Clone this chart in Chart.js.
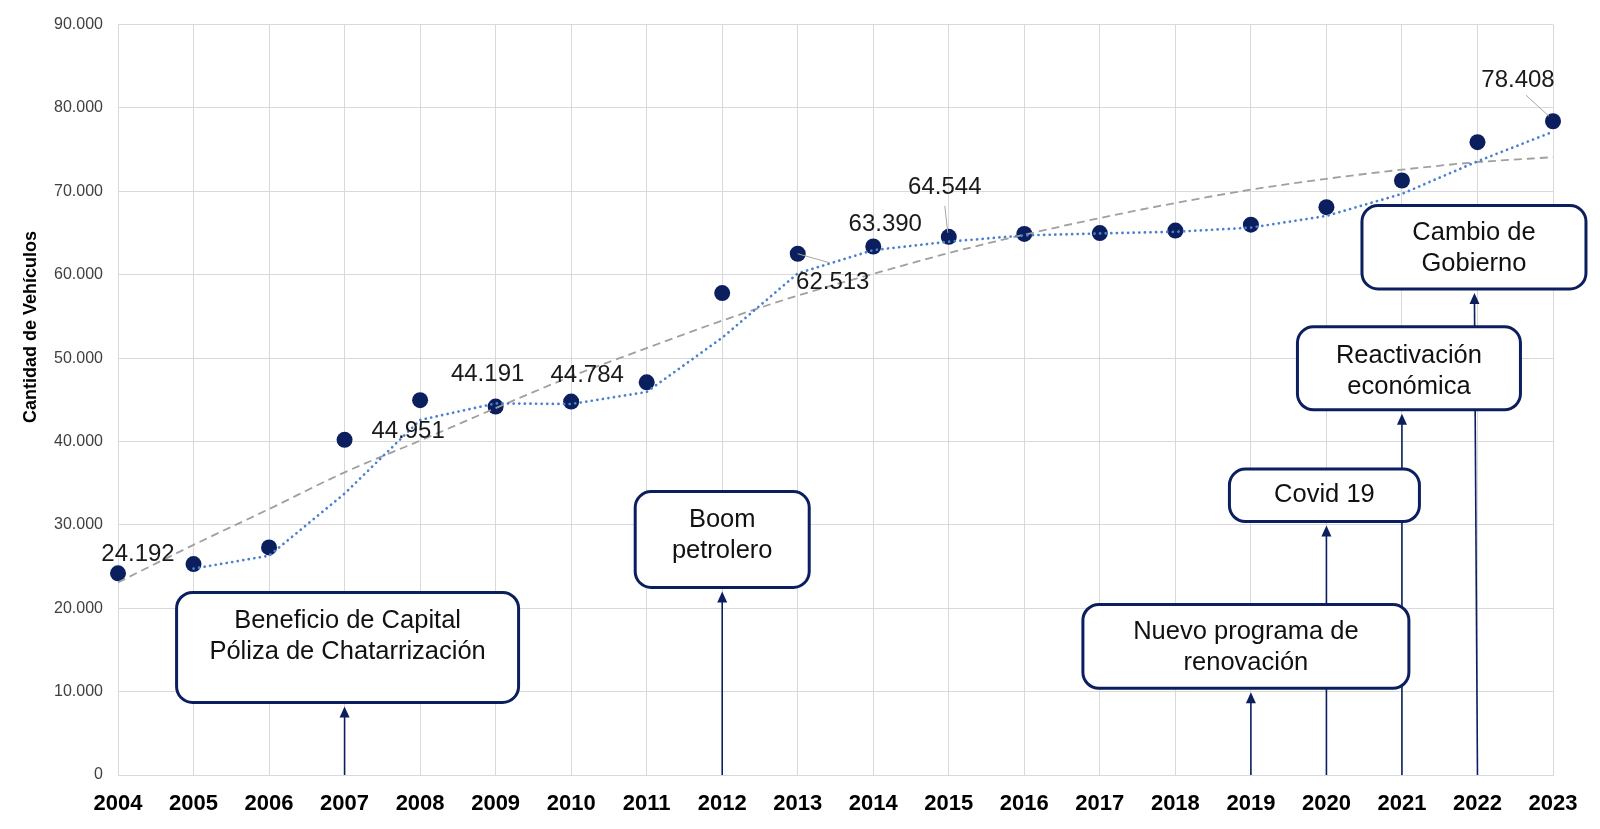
<!DOCTYPE html>
<html>
<head>
<meta charset="utf-8">
<script src="https://cdn.jsdelivr.net/npm/chart.js@4.4.0/dist/chart.umd.min.js"></script>
<style>
  html, body { margin: 0; padding: 0; background: #fff; }
</style>
</head>
<body>
<canvas id="myChart" width="1600" height="829"></canvas>
<script>
// años y matriculación de vehículos
const years = ['2004','2005','2006','2007','2008','2009','2010','2011','2012','2013',
               '2014','2015','2016','2017','2018','2019','2020','2021','2022','2023'];
const vehicles = [24192, 25300, 27300, 40200, 44951, 44191, 44784, 47100, 57800, 62513,
                  63390, 64544, 64900, 65000, 65300, 66000, 68100, 71300, 75900, 78408];
// media móvil (2 períodos)
const movingAvg = [null, 24750, 26300, 33750, 42580, 44570, 44490, 45940, 52450, 60160,
                   62950, 63970, 64720, 64950, 65150, 65650, 67050, 69700, 73600, 77150];
// tendencia polinómica
const polyTrend = [23100, 27600, 31900, 36300, 40100, 44000, 47800, 51200, 54500, 57500,
                   60100, 62600, 64800, 66800, 68600, 70200, 71500, 72600, 73500, 74100];
const yTicks = [0, 10000, 20000, 30000, 40000, 50000, 60000, 70000, 80000, 90000];
const labelYears = ['2004','2008','2009','2010','2013','2014','2015','2023'];

const NAVY = '#0b1f5e';
const FONT = '"Liberation Sans", Arial, sans-serif';

function fmt(v){
  return String(v).replace(/\B(?=(\d{3})+(?!\d))/g, '.');
}

// posicion de etiquetas de datos (dx, dy) y lineas guia
const labelPos = {
  '2004': {dx: 20, dy: -19},
  '2008': {dx: -12, dy: 31},
  '2009': {dx: -8, dy: -32},
  '2010': {dx: 16, dy: -26},
  '2013': {dx: 35, dy: 29, lead: [0, 0, 32, 9]},
  '2014': {dx: 12, dy: -22},
  '2015': {dx: -4, dy: -49, lead: [-1, -4, -4, -31]},
  '2023': {dx: -35, dy: -41, lead: [-4, -5, -27, -26]}
};

// cuadros de eventos
const events = [
  {year: '2007', dx: 3, w: 342, top: 21900, bottom: 8700, textDy: -11,
   lines: ['Beneficio de Capital', 'Póliza de Chatarrización']},
  {year: '2012', dx: 0, w: 174, top: 34000, bottom: 22500, textDy: -4,
   lines: ['Boom', 'petrolero']},
  {year: '2019', dx: -5, w: 326, top: 20450, bottom: 10400, textDy: 1,
   lines: ['Nuevo programa de', 'renovación']},
  {year: '2020', dx: -2, w: 190, top: 36700, bottom: 30400, textDy: 0,
   lines: ['Covid 19']},
  {year: '2021', dx: 7, w: 223, top: 53750, bottom: 43800, textDy: 3,
   lines: ['Reactivación', 'económica']},
  {year: '2022', dx: -3.5, w: 224, top: 68300, bottom: 58300, textDy: 1, topDx: -3,
   lines: ['Cambio de', 'Gobierno']}
];

function roundRect(ctx, x, y, w, h, r){
  ctx.beginPath();
  ctx.moveTo(x + r, y);
  ctx.arcTo(x + w, y, x + w, y + h, r);
  ctx.arcTo(x + w, y + h, x, y + h, r);
  ctx.arcTo(x, y + h, x, y, r);
  ctx.arcTo(x, y, x + w, y, r);
  ctx.closePath();
}

const overlay = {
  id: 'overlay',
  afterDraw(chart){
    const ctx = chart.ctx;
    const xs = chart.scales.x, ys = chart.scales.y;
    const px = y => xs.getPixelForValue(years.indexOf(y));

    ctx.save();
    // titulo eje Y
    ctx.translate(31, 327);
    ctx.rotate(-Math.PI / 2);
    ctx.font = 'bold 18px ' + FONT;
    ctx.fillStyle = '#000';
    ctx.textAlign = 'center';
    ctx.textBaseline = 'middle';
    ctx.fillText('Cantidad de Vehículos', 0, 0);
    ctx.restore();

    // etiquetas de datos
    ctx.save();
    ctx.font = '24px ' + FONT;
    ctx.fillStyle = '#1a1a1a';
    ctx.textAlign = 'center';
    ctx.textBaseline = 'middle';
    labelYears.forEach(y => {
      const i = years.indexOf(y);
      const x0 = px(y), y0 = ys.getPixelForValue(vehicles[i]);
      const p = labelPos[y];
      if (p.lead){
        ctx.strokeStyle = '#a6a6a6';
        ctx.lineWidth = 1;
        ctx.beginPath();
        ctx.moveTo(x0 + p.lead[0], y0 + p.lead[1]);
        ctx.lineTo(x0 + p.lead[2], y0 + p.lead[3]);
        ctx.stroke();
      }
      ctx.fillText(fmt(vehicles[i]), x0 + p.dx, y0 + p.dy);
    });
    ctx.restore();

    // flechas
    ctx.save();
    ctx.strokeStyle = NAVY;
    ctx.fillStyle = NAVY;
    ctx.lineWidth = 1.6;
    const base = ys.getPixelForValue(0);
    events.forEach(e => {
      const x0 = px(e.year);
      const x1 = x0 + (e.topDx || 0);
      const tip = ys.getPixelForValue(e.bottom) + 4;
      ctx.beginPath();
      ctx.moveTo(x0, base);
      ctx.lineTo(x1, tip + 8);
      ctx.stroke();
      ctx.beginPath();
      ctx.moveTo(x1, tip);
      ctx.lineTo(x1 - 5, tip + 11);
      ctx.lineTo(x1 + 5, tip + 11);
      ctx.closePath();
      ctx.fill();
    });
    ctx.restore();

    // cuadros
    ctx.save();
    events.forEach(e => {
      const cx = px(e.year) + e.dx;
      const top = ys.getPixelForValue(e.top);
      const bot = ys.getPixelForValue(e.bottom);
      roundRect(ctx, cx - e.w / 2, top, e.w, bot - top, 16);
      ctx.fillStyle = '#fff';
      ctx.fill();
      ctx.strokeStyle = NAVY;
      ctx.lineWidth = 3;
      ctx.stroke();
      ctx.font = '25.5px ' + FONT;
      ctx.fillStyle = '#111';
      ctx.textAlign = 'center';
      ctx.textBaseline = 'middle';
      const lh = 31;
      const mid = (top + bot) / 2 + e.textDy;
      e.lines.forEach((t, k) => {
        ctx.fillText(t, cx, mid + (k - (e.lines.length - 1) / 2) * lh);
      });
    });
    ctx.restore();
  }
};

const ctx = document.getElementById('myChart').getContext('2d');
const myChart = new Chart(ctx, {
  type: 'line',
  data: {
    labels: years,
    datasets: [
      {
        label: 'Vehículos',
        data: vehicles,
        showLine: false,
        pointRadius: 8,
        pointHoverRadius: 8,
        pointBackgroundColor: NAVY,
        pointBorderWidth: 0,
        order: 3,
        clip: false
      },
      {
        label: 'Media móvil',
        data: movingAvg,
        borderColor: '#4a80d0',
        borderWidth: 2.7,
        borderDash: [0.1, 5.5],
        borderCapStyle: 'round',
        pointRadius: 0,
        tension: 0,
        order: 1,
        clip: false
      },
      {
        label: 'Polinómica',
        data: polyTrend,
        borderColor: '#a0a0a0',
        borderWidth: 1.8,
        borderDash: [8, 5],
        pointRadius: 0,
        cubicInterpolationMode: 'monotone',
        order: 2,
        clip: false
      }
    ]
  },
  options: {
    responsive: false,
    animation: false,
    devicePixelRatio: 1,
    layout: { padding: { top: 23, right: 47, left: 0, bottom: 0 } },
    plugins: {
      legend: { display: false },
      tooltip: { enabled: false }
    },
    scales: {
      x: {
        offset: false,
        grid: { color: '#d9d9d9', lineWidth: 1, drawTicks: false },
        border: { color: '#d9d9d9' },
        ticks: {
          autoSkip: false,
          maxRotation: 0,
          padding: 16,
          color: '#000',
          font: { family: FONT, size: 22, weight: 'bold' }
        },
        afterFit: s => { s.height = 54; }
      },
      y: {
        min: 0,
        max: 90000,
        afterBuildTicks: s => { s.ticks = yTicks.map(v => ({ value: v })); },
        grid: { color: '#d9d9d9', lineWidth: 1, drawTicks: false },
        border: { color: '#d9d9d9' },
        ticks: {
          padding: 15,
          color: '#404040',
          font: { family: FONT, size: 16 },
          callback: v => fmt(v)
        },
        afterFit: s => { s.width = 118; }
      }
    }
  },
  plugins: [overlay]
});
</script>
</body>
</html>
